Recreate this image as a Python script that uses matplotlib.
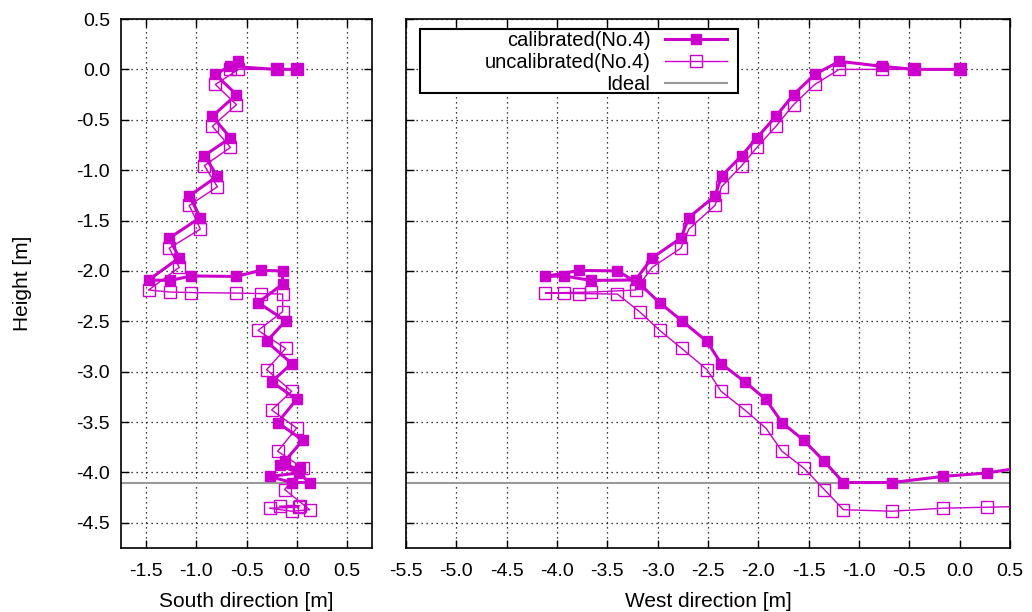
#!/usr/bin/env python3
"""
Trajectory height vs. south / west displacement, calibrated vs uncalibrated
"""
import matplotlib
matplotlib.use('Agg')
import matplotlib.pyplot as plt
from matplotlib.patches import Rectangle
import numpy as np

# trajectory samples
south = [0.0, -0.2, -0.66, -0.58, -0.81, -0.60, -0.84, -0.66, -0.92, -0.79,
         -1.07, -0.96, -1.27, -1.17, -1.475, -1.26, -1.05, -0.605, -0.36, -0.14,
         -0.14, -0.385, -0.11, -0.30, -0.05, -0.25, 0.0, -0.19, 0.06, -0.12,
         0.13, -0.05, -0.27, 0.02, -0.17, 0.03]
west = [0.0, -0.45, -0.77, -1.195, -1.44, -1.65, -1.825, -2.015, -2.165, -2.365,
        -2.43, -2.69, -2.77, -3.055, -3.22, -3.66, -3.93, -4.115, -3.78, -3.40,
        -3.18, -2.98, -2.76, -2.51, -2.37, -2.135, -1.925, -1.765, -1.55, -1.345,
        -1.155, -0.67, -0.17, 0.275, 0.75, 1.1]
height_cal = [0.0, 0.0, 0.03, 0.08, -0.05, -0.25, -0.465, -0.68, -0.855, -1.06,
              -1.255, -1.47, -1.675, -1.87, -2.09, -2.095, -2.05, -2.055, -1.995, -2.0,
              -2.13, -2.315, -2.495, -2.70, -2.92, -3.10, -3.275, -3.505, -3.68, -3.89,
              -4.10, -4.10, -4.04, -4.005, -3.93, -3.96]
height_uncal = [0.0, 0.0, 0.0, 0.0, -0.15, -0.35, -0.565, -0.775, -0.955, -1.165,
                -1.35, -1.585, -1.775, -1.965, -2.19, -2.21, -2.215, -2.22, -2.225, -2.23,
                -2.405, -2.59, -2.77, -2.98, -3.195, -3.38, -3.56, -3.79, -3.955, -4.17,
                -4.37, -4.385, -4.355, -4.345, -4.335, -4.33]
ideal_height = -4.1

south_ticks = [-1.5, -1.0, -0.5, 0.0, 0.5]
west_ticks = [-5.5, -5.0, -4.5, -4.0, -3.5, -3.0, -2.5, -2.0, -1.5, -1.0, -0.5, 0.0, 0.5]
height_ticks = [0.5, 0.0, -0.5, -1.0, -1.5, -2.0, -2.5, -3.0, -3.5, -4.0, -4.5]

MAGENTA = '#cc00cc'
TICK_FS = 14
LABEL_FS = 15


def style_axes(ax):
    for s in ax.spines.values():
        s.set_linewidth(1.2)
        s.set_color('black')
    ax.tick_params(direction='in', length=6, width=1, top=True, right=True,
                   labelsize=TICK_FS, colors='black')
    ax.tick_params(axis='x', pad=10.5)
    ax.tick_params(axis='y', pad=8)
    ax.grid(True, color='black', linestyle=(0, (1, 3)), linewidth=0.9)
    ax.set_axisbelow(True)


def plot_panel(ax, horiz):
    ax.axhline(ideal_height, color='#999999', linewidth=1.5, label='Ideal', zorder=2)
    ax.plot(horiz, height_cal, '-', color=MAGENTA, linewidth=2.2,
            marker='s', markersize=7.2, markerfacecolor=MAGENTA,
            markeredgecolor=MAGENTA, label='calibrated(No.4)', zorder=4)
    ax.plot(horiz, height_uncal, '-', color=MAGENTA, linewidth=1.0,
            marker='s', markersize=8, markerfacecolor='none',
            markeredgecolor=MAGENTA, markeredgewidth=1.0,
            label='uncalibrated(No.4)', zorder=3)


def generate_figure():
    plt.rcParams['font.family'] = ['Liberation Sans', 'DejaVu Sans']
    plt.rcParams['axes.unicode_minus'] = False

    fig = plt.figure(figsize=(10.32, 6.12), dpi=100)
    ax1 = fig.add_axes([121 / 1032, 64 / 612, 251 / 1032, 529 / 612])
    ax2 = fig.add_axes([406 / 1032, 64 / 612, 604 / 1032, 529 / 612])

    plot_panel(ax1, south)
    plot_panel(ax2, west)

    for ax in (ax1, ax2):
        style_axes(ax)
        ax.set_ylim(-4.75, 0.5)
        ax.set_yticks(height_ticks)

    ax1.set_xlim(-1.75, 0.75)
    ax1.set_xticks(south_ticks)
    ax1.set_xticklabels(['%.1f' % t for t in south_ticks])
    ax1.set_yticklabels(['%.1f' % t for t in height_ticks])

    ax2.set_xlim(-5.5, 0.5)
    ax2.set_xticks(west_ticks)
    ax2.set_xticklabels(['%.1f' % t for t in west_ticks])
    ax2.set_yticklabels([])

    ax1.set_xlabel('South direction [m]', fontsize=LABEL_FS, labelpad=9)
    ax2.set_xlabel('West direction [m]', fontsize=LABEL_FS, labelpad=9)
    fig.text(23 / 1032, 1 - 283.5 / 612, 'Height [m]', rotation=90,
             ha='center', va='center', fontsize=LABEL_FS)

    # legend: gnuplot-like key, text right-aligned left of the sample
    handles, labels = ax2.get_legend_handles_labels()
    order = [1, 2, 0]
    ax2.legend([handles[i] for i in order], [labels[i] for i in order],
               loc='upper right', bbox_to_anchor=((727 - 406) / 604, 1 - (31 - 19) / 529),
               borderaxespad=0, borderpad=0, fontsize=14.5, markerfirst=False,
               frameon=False, handlelength=3.1, handletextpad=0.7, labelspacing=0.15)
    ax2.add_patch(Rectangle(((420 - 406) / 604, 1 - (93 - 19) / 529),
                            (738 - 420) / 604, (93 - 29) / 529,
                            transform=ax2.transAxes, facecolor='white',
                            edgecolor='black', linewidth=1.5, zorder=4.5))

    fig.savefig('out.png', dpi=100)
    plt.close(fig)


if __name__ == '__main__':
    generate_figure()
